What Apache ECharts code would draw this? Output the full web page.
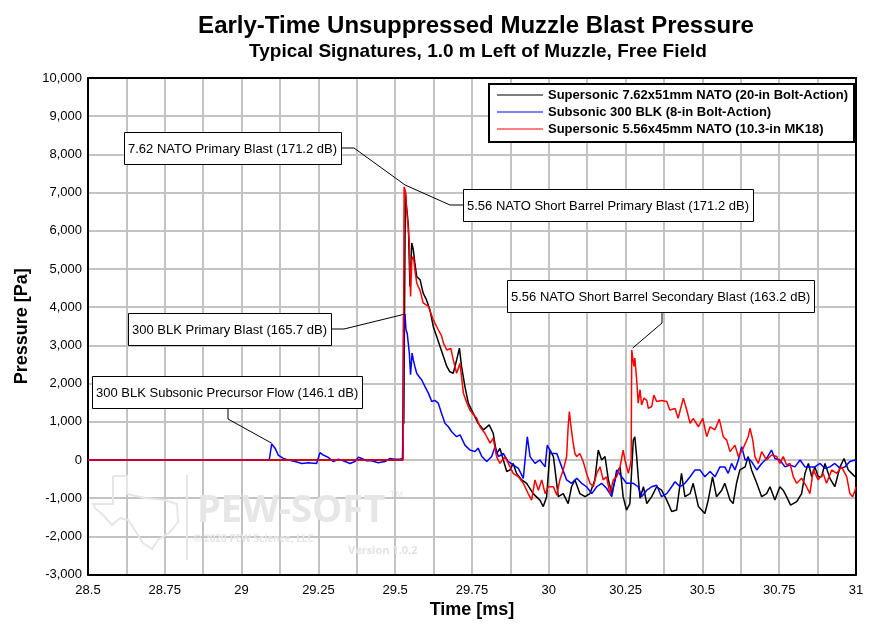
<!DOCTYPE html>
<html><head><meta charset="utf-8">
<script src="https://cdn.jsdelivr.net/npm/echarts@6/dist/echarts.min.js"></script>
<style>html,body{margin:0;padding:0;background:#fff}#c{width:880px;height:632px}</style>
</head><body><div id="c"></div><script>
// ---------- data ----------
const titleText = 'Early-Time Unsuppressed Muzzle Blast Pressure';
const subtitleText = 'Typical Signatures, 1.0 m Left of Muzzle, Free Field';
const seriesNames = [
  'Supersonic 7.62x51mm NATO (20-in Bolt-Action)',
  'Subsonic 300 BLK (8-in Bolt-Action)',
  'Supersonic 5.56x45mm NATO (10.3-in MK18)'
];
const seriesColors = ['#000000', '#0000ff', '#ff0000'];

// time [ms], pressure [Pa]
const nato762 = [[28.5,0],[29.524,0],[29.526,1050],[29.528,950],[29.533,7030],[29.536,6700],[29.539,6470],[29.543,6110],[29.548,4540],[29.554,5680],[29.559,5500],[29.564,5160],[29.570,4800],[29.581,4720],[29.591,4370],[29.602,4190],[29.613,3930],[29.624,3490],[29.635,3230],[29.646,2970],[29.657,2710],[29.668,2450],[29.678,2310],[29.689,2270],[29.700,2620],[29.709,2930],[29.716,2450],[29.727,1920],[29.738,1490],[29.754,1220],[29.770,960],[29.787,790],[29.806,920],[29.819,700],[29.830,170],[29.841,300],[29.852,0],[29.863,-300],[29.874,-260],[29.884,-90],[29.895,-350],[29.912,-520],[29.928,-610],[29.949,-880],[29.971,-1050],[29.982,-1220],[29.993,-960],[30.004,260],[30.015,90],[30.031,-960],[30.047,-880],[30.063,-1140],[30.074,-700],[30.085,-520],[30.101,-880],[30.118,-960],[30.134,-880],[30.150,-520],[30.161,260],[30.172,0],[30.183,90],[30.194,-520],[30.205,-880],[30.221,-350],[30.232,-180],[30.242,-960],[30.253,-1310],[30.264,-1140],[30.275,520],[30.280,610],[30.286,90],[30.291,-440],[30.297,-1000],[30.308,-700],[30.319,-1140],[30.335,-960],[30.351,-700],[30.367,-790],[30.384,-1050],[30.400,-1350],[30.416,-1310],[30.432,-350],[30.443,-960],[30.460,-880],[30.470,-610],[30.487,-1220],[30.508,-1400],[30.519,-1050],[30.533,-440],[30.546,-960],[30.563,-790],[30.573,-610],[30.590,-1050],[30.600,-1140],[30.611,-610],[30.622,-260],[30.639,-180],[30.649,90],[30.660,-260],[30.677,-610],[30.693,-960],[30.709,-880],[30.720,-700],[30.736,-1050],[30.752,-700],[30.763,-790],[30.774,-960],[30.787,-1180],[30.807,-1090],[30.823,-880],[30.834,-350],[30.845,-90],[30.856,-440],[30.866,-180],[30.877,-440],[30.888,-440],[30.899,-90],[30.915,-480],[30.931,-700],[30.948,-180],[30.961,40],[30.975,-260],[30.986,-350],[30.997,-440],[31.0,-400]];

const blk300 = [[28.5,0],[29.090,0],[29.098,420],[29.109,310],[29.119,130],[29.136,40],[29.152,0],[29.174,-40],[29.196,-90],[29.217,-70],[29.244,-90],[29.250,-80],[29.255,190],[29.266,130],[29.282,70],[29.298,-40],[29.315,20],[29.331,-20],[29.353,-90],[29.369,-40],[29.380,70],[29.391,40],[29.407,-20],[29.423,-20],[29.445,-70],[29.467,-40],[29.483,40],[29.499,20],[29.516,20],[29.524,40],[29.527,3760],[29.532,3820],[29.535,3410],[29.539,3320],[29.546,2800],[29.550,2230],[29.555,2800],[29.559,2620],[29.564,2450],[29.570,2270],[29.578,2180],[29.586,2100],[29.597,1920],[29.608,1750],[29.619,1530],[29.629,1560],[29.640,1490],[29.651,1220],[29.662,960],[29.673,870],[29.684,740],[29.700,610],[29.711,660],[29.727,390],[29.743,260],[29.760,220],[29.770,310],[29.782,90],[29.798,-40],[29.814,90],[29.825,350],[29.836,90],[29.852,170],[29.868,-40],[29.884,-130],[29.901,-220],[29.917,-480],[29.922,-520],[29.930,610],[29.939,90],[29.955,-90],[29.971,0],[29.988,-180],[29.995,390],[30.009,170],[30.026,170],[30.042,-180],[30.058,-520],[30.074,-610],[30.091,-480],[30.107,-610],[30.123,-700],[30.140,-880],[30.156,-700],[30.172,-610],[30.188,-740],[30.205,-960],[30.221,-260],[30.237,-440],[30.253,-610],[30.275,-610],[30.291,-700],[30.302,-960],[30.319,-790],[30.335,-700],[30.351,-660],[30.367,-960],[30.384,-880],[30.400,-700],[30.411,-570],[30.427,-700],[30.443,-610],[30.460,-440],[30.476,-260],[30.492,-260],[30.508,-440],[30.525,-300],[30.541,-440],[30.557,-180],[30.573,-180],[30.584,-350],[30.595,-90],[30.606,-260],[30.617,0],[30.628,350],[30.639,0],[30.649,40],[30.660,-40],[30.677,-260],[30.693,-90],[30.709,40],[30.725,260],[30.736,40],[30.752,0],[30.769,-180],[30.785,-130],[30.801,-180],[30.818,0],[30.834,-180],[30.850,-180],[30.866,-180],[30.883,-90],[30.899,-220],[30.915,-180],[30.931,-90],[30.948,-220],[30.964,-180],[30.980,-40],[30.997,0],[31.0,-50]];

const nato556 = [[28.5,0],[29.526,0],[29.529,7150],[29.532,7080],[29.535,6900],[29.537,6550],[29.541,6200],[29.546,5680],[29.550,4280],[29.554,5240],[29.559,5330],[29.564,4980],[29.570,4640],[29.575,4540],[29.581,4440],[29.591,4110],[29.608,4020],[29.624,3670],[29.640,3410],[29.651,3250],[29.657,3060],[29.668,2880],[29.681,2920],[29.689,2620],[29.700,2270],[29.711,2530],[29.722,1750],[29.733,1500],[29.743,1310],[29.754,1200],[29.765,1100],[29.776,870],[29.792,700],[29.809,440],[29.819,570],[29.830,90],[29.841,-90],[29.857,90],[29.874,-180],[29.884,-350],[29.901,-440],[29.917,-610],[29.933,-880],[29.944,-1050],[29.955,-520],[29.966,-790],[29.977,-520],[29.988,-880],[29.998,-700],[30.015,-700],[30.026,-920],[30.036,-520],[30.047,-260],[30.058,90],[30.063,870],[30.067,1270],[30.071,960],[30.078,520],[30.085,170],[30.091,90],[30.101,170],[30.112,-40],[30.123,-350],[30.134,-610],[30.145,-700],[30.156,-350],[30.167,-180],[30.177,-520],[30.188,-440],[30.199,-880],[30.210,-520],[30.221,-440],[30.232,-180],[30.242,260],[30.248,0],[30.259,-350],[30.264,-180],[30.268,0],[30.270,2880],[30.273,2930],[30.277,2450],[30.280,2670],[30.286,2100],[30.291,1490],[30.297,1840],[30.302,1440],[30.310,1620],[30.319,1560],[30.324,1350],[30.335,1400],[30.342,1700],[30.351,1530],[30.367,1560],[30.384,1530],[30.394,1310],[30.411,1350],[30.421,1090],[30.438,1620],[30.449,1310],[30.460,960],[30.470,1090],[30.487,870],[30.501,1090],[30.514,610],[30.525,870],[30.541,790],[30.555,1070],[30.568,610],[30.579,520],[30.590,220],[30.606,390],[30.617,90],[30.633,310],[30.649,610],[30.655,830],[30.664,520],[30.671,90],[30.682,-90],[30.693,220],[30.709,0],[30.725,130],[30.742,90],[30.752,-90],[30.763,90],[30.774,-130],[30.785,-90],[30.796,-440],[30.807,-610],[30.823,-480],[30.839,-700],[30.850,-880],[30.861,-260],[30.877,-520],[30.893,-350],[30.904,-610],[30.921,-260],[30.937,-350],[30.953,-180],[30.970,-440],[30.980,-880],[30.989,-960],[30.997,-790],[31.0,-700]];

// callout texts and the data points they point at
const calloutTexts = [
  '7.62 NATO Primary Blast (171.2 dB)',
  '5.56 NATO Short Barrel Primary Blast (171.2 dB)',
  '5.56 NATO Short Barrel Secondary Blast (163.2 dB)',
  '300 BLK Primary Blast (165.7 dB)',
  '300 BLK Subsonic Precursor Flow (146.1 dB)'
];
const calloutTargets = [[29.532,7200],[29.532,7200],[30.273,2930],[29.532,3820],[29.098,440]];

// ---------- layout / style ----------
const FONT = '"Liberation Sans", Arial, sans-serif';
const calloutLayout = [
  {box:[124,132], side:'right'},
  {box:[463,189], side:'left'},
  {box:[507,280], side:'bottom', off:155},
  {box:[128,313], side:'right'},
  {box:[92,376],  side:'bottom', off:136}
];

const chart = echarts.init(document.getElementById('c'));
const gridColor = '#c3c3c3';
const datasets = [nato762, blk300, nato556];
const seriesZ = [3, 4, 10];
const frameLine = {show:true,onZero:false,lineStyle:{color:'#000',width:2}};

chart.setOption({
  animation:false,
  backgroundColor:'#fff',
  title:[
    {text:titleText, left:471, top:9, textAlign:'center', textStyle:{fontFamily:FONT,fontSize:24,fontWeight:'bold',color:'#000'}},
    {text:subtitleText, left:473, top:37, textAlign:'center', textStyle:{fontFamily:FONT,fontSize:19,fontWeight:'bold',color:'#000'}}
  ],
  grid:{left:88,right:24,top:78,bottom:57.4,show:false},
  legend:{
    orient:'vertical', left:489, top:84, itemWidth:46, itemHeight:1, itemGap:3,
    padding:[4,6,6,8], backgroundColor:'#fff', borderColor:'#000', borderWidth:2,
    icon:'rect', data:seriesNames,
    textStyle:{fontFamily:FONT,fontWeight:'bold',fontSize:13,color:'#000',lineHeight:14}
  },
  xAxis:[{
    type:'value', min:28.5, max:31, interval:0.25,
    name:'Time [ms]', nameLocation:'middle', nameGap:26,
    nameTextStyle:{fontFamily:FONT,fontSize:18,fontWeight:'bold',color:'#000'},
    axisLine:frameLine,
    axisTick:{show:false},
    axisLabel:{margin:9,color:'#000',fontSize:13,fontFamily:FONT},
    splitLine:{show:true,lineStyle:{color:gridColor,width:2}},
    minorTick:{show:false,splitNumber:2},
    minorSplitLine:{show:true,lineStyle:{color:gridColor,width:2}}
  },{
    type:'value', min:28.5, max:31, interval:0.25, position:'top',
    axisLine:frameLine, axisTick:{show:false}, axisLabel:{show:false}, splitLine:{show:false}
  }],
  yAxis:[{
    type:'value', min:-3000, max:10000, interval:1000,
    name:'Pressure [Pa]', nameLocation:'middle', nameGap:57,
    nameTextStyle:{fontFamily:FONT,fontSize:18,fontWeight:'bold',color:'#000'},
    axisLine:frameLine,
    axisTick:{show:false},
    axisLabel:{margin:6,color:'#000',fontSize:13,fontFamily:FONT,formatter:v=>v.toLocaleString('en-US')},
    splitLine:{show:true,lineStyle:{color:gridColor,width:2}}
  },{
    type:'value', min:-3000, max:10000, interval:1000, position:'right',
    axisLine:frameLine, axisTick:{show:false}, axisLabel:{show:false}, splitLine:{show:false}
  }],
  series: datasets.map((d,i)=>({
    type:'line', name:seriesNames[i], data:d, showSymbol:false, symbol:'none',
    xAxisIndex:0, yAxisIndex:0,
    lineStyle:{width:1.5,color:seriesColors[i]}, itemStyle:{color:seriesColors[i]},
    emphasis:{disabled:true}, z:seriesZ[i]
  }))
});

// callouts and watermark
const ctx = document.createElement('canvas').getContext('2d');
ctx.font = '13px "Liberation Sans"';
const els = [];
const wm = '#e6e6e6';
// faint Texas outline of the watermark logo
els.push({type:'polyline', z:1, silent:true, shape:{points:[[113,476],[127,476],[127,494],[145,498],[165,500],[177,504],[178,522],[170,532],[158,540],[152,549],[143,543],[136,532],[128,520],[120,518],[112,525],[104,516],[95,508],[93,504],[113,504],[113,476]]}, style:{stroke:wm,lineWidth:2,fill:null}});
els.push({type:'line', z:1, silent:true, shape:{x1:187,y1:475,x2:187,y2:560}, style:{stroke:wm,lineWidth:2}});
els.push({type:'text', x:197, y:492, z:1, silent:true, style:{text:'PEW-SOFT', font:'bold 38px "Open Sans", "Liberation Sans"', fill:wm, align:'left', verticalAlign:'top'}});
els.push({type:'text', x:390, y:490, z:1, silent:true, style:{text:'TM', font:'9px "Liberation Sans"', fill:wm, align:'left', verticalAlign:'top'}});
els.push({type:'text', x:193, y:534, z:1, silent:true, style:{text:'\u00a9 2020 PEW Science, LLC', font:'bold 10px "Open Sans", "Liberation Sans"', fill:wm, align:'left', verticalAlign:'top'}});
els.push({type:'text', x:348, y:545, z:1, silent:true, style:{text:'Version 1.0.2', font:'bold 11px "Open Sans", "Liberation Sans"', fill:'#e2e2e2', align:'left', verticalAlign:'top'}});

calloutTexts.forEach((t,i)=>{
  const L = calloutLayout[i];
  const w = Math.round(ctx.measureText(t).width) + 8;
  const h = 32;
  const bx = L.box[0], by = L.box[1];
  const a = chart.convertToPixel({xAxisIndex:0,yAxisIndex:0}, calloutTargets[i]);
  let p0, p1;
  if (L.side==='right') { p0=[bx+w, by+h/2]; p1=[bx+w+13, by+h/2]; }
  else if (L.side==='left') { p0=[bx, by+h/2]; p1=[bx-13, by+h/2]; }
  else { p0=[bx+L.off, by+h]; p1=[bx+L.off, by+h+11]; }
  els.push({type:'polyline', z:100, silent:true, shape:{points:[p0,p1,a]}, style:{stroke:'#000',lineWidth:1,fill:null}});
  els.push({type:'rect', z:101, silent:true, shape:{x:bx+0.5,y:by+0.5,width:w,height:h}, style:{fill:'#fff',stroke:'#000',lineWidth:1}});
  els.push({type:'text', z:102, silent:true, x:bx+4, y:by+h/2+1, style:{text:t, font:'13px "Liberation Sans", Arial', fill:'#000', align:'left', verticalAlign:'middle'}});
});
chart.setOption({graphic:{elements:els}});
</script></body></html>
